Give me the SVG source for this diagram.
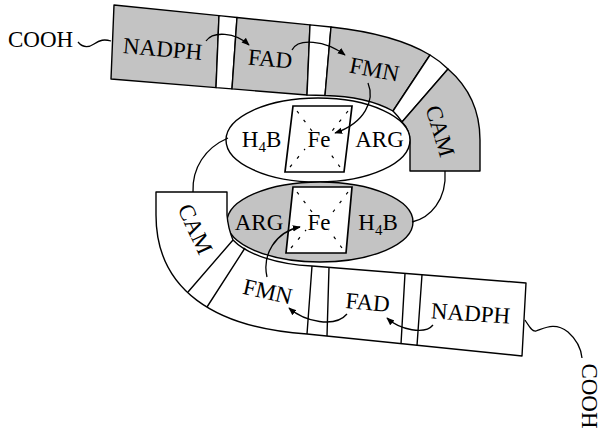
<svg xmlns="http://www.w3.org/2000/svg" width="600" height="430" viewBox="0 0 600 430">
<defs>
<style>
.t{font-family:"Liberation Serif","Times New Roman",serif;font-size:23px;fill:#000}
.sub{font-size:15px}
.g{fill:#c3c3c3;stroke:#000;stroke-width:1.4;stroke-linejoin:round}
.w{fill:#fff;stroke:#000;stroke-width:1.4;stroke-linejoin:round}
.ln{fill:none;stroke:#000;stroke-width:1.4}
.fe{fill:#fff;stroke:#000;stroke-width:1.7}
.x{fill:none;stroke:#000;stroke-width:1.2;stroke-dasharray:3 8}
.c{fill:none;stroke:#000;stroke-width:1.3}
.a{fill:none;stroke:#000;stroke-width:1.3;marker-end:url(#ah)}
</style>
<marker id="ah" viewBox="0 0 10 10" refX="9" refY="5" markerWidth="8" markerHeight="8" markerUnits="userSpaceOnUse" orient="auto">
<path d="M0,1 L10,5 L0,9 Z" fill="#000"/>
</marker>
</defs>

<!-- upper chain -->
<g id="nadph-1">
<path class="g" d="M114,5 L219,15.6 L216,87.6 L111,79 Z"/>
<text class="t" text-anchor="middle" transform="translate(162,56.5) rotate(5)">NADPH</text>
</g>
<g id="linker-1a"><path class="w" d="M219,15.6 L237,17.5 L232,88.9 L216,87.6 Z"/></g>
<g id="fad-1">
<path class="g" d="M237,17.5 L310,24.9 L307,95 L232,88.9 Z"/>
<text class="t" text-anchor="middle" transform="translate(269.5,66.5) rotate(5)">FAD</text>
</g>
<g id="linker-1b"><path class="w" d="M310,24.9 L331,27 L325,95.5 L307,95 Z"/></g>
<g id="fmn-1">
<path class="g" d="M331,27 Q395,34 430,55 L393,111 A95,46 0 0 0 325,95.5 Z"/>
<text class="t" text-anchor="middle" transform="translate(373,77) rotate(11)">FMN</text>
</g>
<g id="linker-1c"><path class="w" d="M430,55 Q440,61 448,69 L402,122 Q398,116 393,111 Z"/></g>
<g id="cam-1">
<path class="g" d="M448,69 C470,88 480,112 480,140 L480,171 L410,171 L410,142 Q410,130 402,122 Z"/>
<text class="t" text-anchor="middle" y="7.5" transform="translate(440,131) rotate(73)">CAM</text>
</g>

<!-- heme domains -->
<g id="heme-1">
<ellipse class="w" cx="318" cy="140" rx="92" ry="42"/>
<path class="fe" d="M293,106 L352,106 L344,172 L285,172 Z"/>
<path class="x" d="M297,111 L312,131 M348,111 L332,131 M290,167 L305,149 M340,167 L327,149"/>
<text class="t" text-anchor="middle" x="261.5" y="147">H<tspan class="sub" dy="5">4</tspan><tspan dy="-5">B</tspan></text>
<text class="t" text-anchor="middle" x="319" y="147">Fe</text>
<text class="t" text-anchor="middle" x="379.5" y="147">ARG</text>
</g>
<g id="heme-2">
<ellipse class="g" cx="320" cy="222" rx="93" ry="40"/>
<path class="fe" d="M293,187 L352,187 L346,253 L286,253 Z"/>
<path class="x" d="M297,192 L312,212 M348,192 L333,212 M291,248 L306,230 M342,248 L329,230"/>
<text class="t" text-anchor="middle" x="259" y="230">ARG</text>
<text class="t" text-anchor="middle" x="319" y="230">Fe</text>
<text class="t" text-anchor="middle" x="378" y="230">H<tspan class="sub" dy="5">4</tspan><tspan dy="-5">B</tspan></text>
</g>

<!-- lower chain -->
<g id="lower-chain">
<path class="w" d="M156,192 L227,192 L227,215 Q228,228 233,240 A96,44 0 0 0 312,266 L526,283 L522,356 L307,334 C215,328 156,290 156,215 Z"/>
<path class="ln" d="M233,240 L188,292 M245,248 L207,307 M312,266 L307,334 M329,267.4 L327,336 M405,273.4 L401,344 M422,274.7 L417,345.5"/>
<g id="cam-2"><text class="t" text-anchor="middle" y="7.5" transform="translate(195,229) rotate(65)">CAM</text></g>
<g id="fmn-2"><text class="t" text-anchor="middle" transform="translate(266,299) rotate(13)">FMN</text></g>
<g id="fad-2"><text class="t" text-anchor="middle" transform="translate(367,310) rotate(5)">FAD</text></g>
<g id="nadph-2"><text class="t" text-anchor="middle" transform="translate(470,321) rotate(4)">NADPH</text></g>
</g>

<g id="cooh-1"><text class="t" x="8" y="47">COOH</text></g>
<g id="cooh-2"><text class="t" text-anchor="middle" y="7.5" transform="translate(589,396) rotate(90)">COOH</text></g>

<!-- connectors -->
<g id="connectors">
<path class="c" d="M78,42 C83,48 88,48 94,44 C100,40 104,39 111,41"/>
<path class="c" d="M525,320 C529,326 532,332 536,331 C545,328 555,322 568,332 C576,339 581,348 582,358"/>
<path class="c" d="M228,138 C205,148 192,168 193,192"/>
<path class="c" d="M445,171 C447,200 430,218 412,222"/>
<path class="a" d="M206,41 C213,31 235,32 249,45"/>
<path class="a" d="M292,50 C298,38 325,40 345,55"/>
<path class="a" d="M368,83 C375,100 365,123 335,133"/>
<path class="a" d="M433,325 C425,335 400,330 387,318"/>
<path class="a" d="M347,314 C335,328 305,322 289,308"/>
<path class="a" d="M267,277 C262,255 275,232 300,227"/>
</g>
</svg>
